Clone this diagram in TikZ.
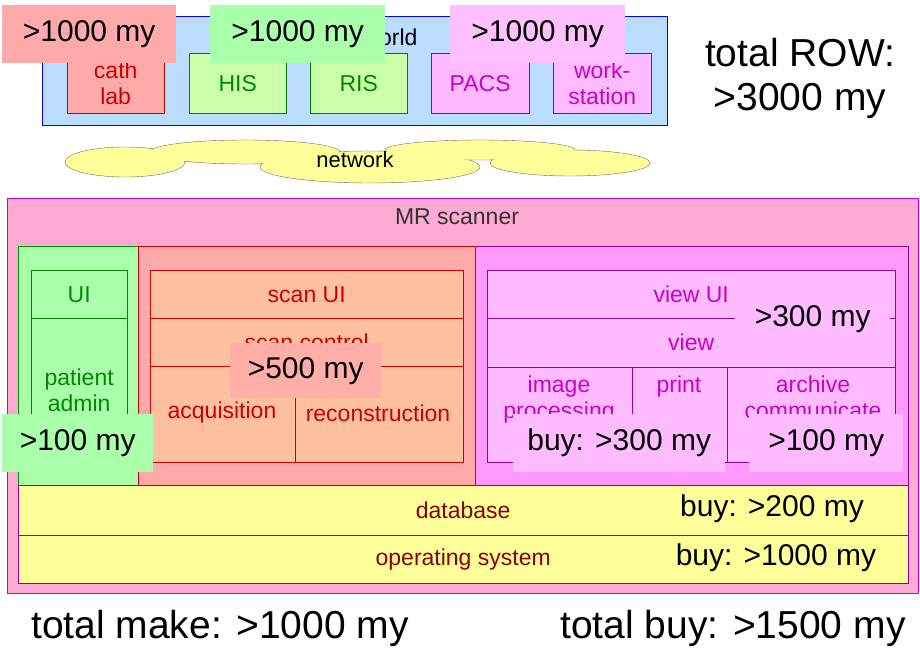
\documentclass[tikz,border=0pt]{standalone}
\usepackage{fontspec}
\setmainfont{Liberation Sans}
\definecolor{wblue}{HTML}{BBDDFF}
\definecolor{rfill}{HTML}{FFAAAA}
\definecolor{gfill}{HTML}{CCFFAA}
\definecolor{gover}{HTML}{AAFFAA}
\definecolor{pfill}{HTML}{FFBBFF}
\definecolor{pcol}{HTML}{FF99FF}
\definecolor{pover}{HTML}{FFC0FF}
\definecolor{mrfill}{HTML}{FFAAD4}
\definecolor{peach}{HTML}{FFC0A0}
\definecolor{yfill}{HTML}{FFFF99}
\definecolor{rtext}{HTML}{CC0000}
\definecolor{gtext}{HTML}{008800}
\definecolor{ptext}{HTML}{CC00CC}
\definecolor{pline}{HTML}{990099}
\definecolor{dred}{HTML}{880000}
\begin{document}
\begin{tikzpicture}[x=1pt,y=-1pt,
  bx/.style={draw,rectangle,anchor=north west,inner sep=0pt,font=\fontsize{23}{26}\selectfont,align=center},
  red/.style={bx,fill=rfill,draw=red!80!black,text=rtext},
  grn/.style={bx,fill=gfill,draw=green!50!black,text=gtext},
  pnk/.style={bx,fill=pfill,draw=pline,text=ptext},
  ovl/.style={rectangle,anchor=north west,inner sep=0pt,font=\fontsize{30}{32}\selectfont},
  big/.style={font=\fontsize{39}{44}\selectfont,align=center},
  lbl/.style={font=\fontsize{23}{26}\selectfont,align=center}]
\useasboundingbox (0,0) rectangle (920,660);
% world
\node[bx,fill=wblue,draw=blue,minimum width=625,minimum height=109] (world) at (42,16) {};
\node[lbl,anchor=east] (wt) at (421,37) {rest of world};
\node[red,minimum width=97,minimum height=60] (cath) at (67,53) {cath\\lab};
\node[grn,minimum width=97,minimum height=60] (his) at (189,53) {HIS};
\node[grn,minimum width=97,minimum height=60] (ris) at (310,53) {RIS};
\node[pnk,minimum width=98,minimum height=60] (pacs) at (431,53) {PACS};
\node[pnk,minimum width=98,minimum height=60] (ws) at (553,53) {work-\\station};
\node[ovl,fill=rfill,minimum width=174,minimum height=58] (o1) at (2,5) {>1000 my};
\node[ovl,fill=gover,minimum width=175,minimum height=58] (o2) at (210,5) {>1000 my};
\node[ovl,fill=pover,minimum width=175,minimum height=58] (o3) at (450,5) {>1000 my};
\node[big] (row) at (800,78) {total ROW:\\>3000 my};
% network cloud
\foreach \c/\rx/\ry in {{(125,162)}/60/15,{(245,152)}/95/12,{(370,167)}/110/16,{(480,150)}/95/10,{(570,163)}/80/13}
  \draw[black!60,fill=yfill] \c ellipse ({\rx} and {\ry});
\foreach \c/\rx/\ry in {{(125,162)}/60/15,{(245,152)}/95/12,{(370,167)}/110/16,{(480,150)}/95/10,{(570,163)}/80/13}
  \fill[yfill] \c ellipse ({\rx-0.8} and {\ry-0.8});
\node[lbl,font=\fontsize{22}{24}\selectfont] (net) at (355,160) {network};
% MR scanner
\node[bx,fill=mrfill,draw=ptext,minimum width=911,minimum height=395] (mr) at (7,198) {};
\node[lbl,text=black!80] (mrt) at (457,217) {MR scanner};
\node[bx,fill=gover,draw=green!60!black,minimum width=120,minimum height=239] (gc) at (18,246) {};
\node[bx,fill=rfill,draw=red!80!black,minimum width=337,minimum height=239] (rc) at (138,246) {};
\node[bx,fill=pcol,draw=pline,minimum width=433,minimum height=239] (pc) at (475,246) {};
\node[grn,fill=gover,minimum width=96,minimum height=48] (ui) at (31,270) {UI};
\node[grn,fill=gover,minimum width=96,minimum height=144] (pa) at (31,318) {patient\\admin};
\node[red,fill=peach,minimum width=313,minimum height=48] (sui) at (150,270) {scan UI};
\node[red,fill=peach,minimum width=313,minimum height=48] (sc) at (150,318) {scan control};
\node[red,fill=peach,minimum width=145,minimum height=96] (acq) at (150,366) {};
\node[lbl,text=rtext] at (222,413) {acquisition};
\node[red,fill=peach,minimum width=168,minimum height=96] (rec) at (295,366) {};
\node[lbl,text=rtext] at (378,413) {reconstruction};
\node[pnk,minimum width=408,minimum height=48] (vui) at (487,270) {view UI};
\node[pnk,minimum width=408,minimum height=49] (vw) at (487,318) {view};
\node[pnk,minimum width=145,minimum height=95] (ip) at (487,367) {};
\node[lbl,text=ptext,anchor=north] at (559,372) {image\\processing};
\node[pnk,minimum width=95,minimum height=95] (pr) at (632,367) {};
\node[lbl,text=ptext,anchor=north] at (679,372) {print};
\node[pnk,minimum width=168,minimum height=95] (ar) at (727,367) {};
\node[lbl,text=ptext,anchor=north] at (813,372) {archive\\communicate};
\node[ovl,fill=rfill!80!peach,minimum width=151,minimum height=55] (o5) at (230,343) {>500 my};
\node[ovl,fill=gover,minimum width=151,minimum height=58] (o6) at (2,414) {>100 my};
\node[ovl,fill=pfill,minimum width=155,minimum height=48] (o7) at (735,295) {>300 my};
\node[ovl,fill=pfill,minimum width=212,minimum height=58] (o8) at (513,414) {buy: >300 my};
\node[ovl,fill=pfill,minimum width=154,minimum height=58] (o9) at (749,414) {>100 my};
\node[bx,fill=yfill,draw=pline,text=dred,minimum width=890,minimum height=50] (db) at (18,485) {database};
\node[bx,fill=yfill,draw=pline,text=dred,minimum width=890,minimum height=48] (os) at (18,535) {operating system};
\node[font=\fontsize{30}{32}\selectfont] (b1) at (772,509) {buy: >200 my};
\node[font=\fontsize{30}{32}\selectfont] (b2) at (776,558) {buy: >1000 my};
\node[big] (tm) at (220,628) {total make: >1000 my};
\node[big] (tb) at (733,628) {total buy: >1500 my};
\end{tikzpicture}
\end{document}
